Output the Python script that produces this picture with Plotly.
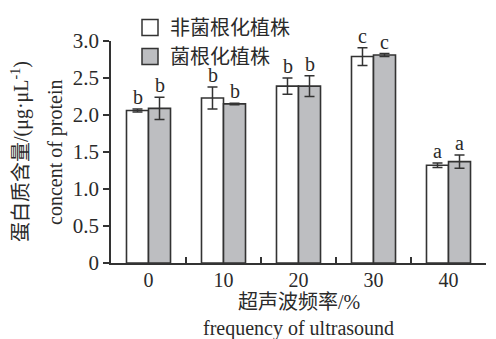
import plotly.graph_objects as go

categories = ["0", "10", "20", "30", "40"]
non_myco = [2.06, 2.23, 2.39, 2.79, 1.32]
non_myco_err = [0.02, 0.15, 0.11, 0.12, 0.03]
myco = [2.09, 2.15, 2.39, 2.81, 1.37]
myco_err = [0.15, 0.01, 0.14, 0.02, 0.09]
non_myco_letters = ["b", "b", "b", "c", "a"]
myco_letters = ["b", "b", "b", "c", "a"]
y_ticks = [0, 0.5, 1.0, 1.5, 2.0, 2.5, 3.0]
y_ticklabels = ["0", "0.5", "1.0", "1.5", "2.0", "2.5", "3.0"]
series_names = ["非菌根化植株", "菌根化植株"]

SERIF = "Liberation Serif, Times New Roman, Noto Sans CJK SC, serif"
TXT = "#2a2a2a"
EDGE = "#333333"
FILLS = ["white", "#bdbec1"]

fig = go.Figure()
for name, vals, errs, fill in zip(series_names, [non_myco, myco], [non_myco_err, myco_err], FILLS):
    fig.add_trace(go.Bar(
        x=categories, y=vals, name=name, showlegend=False,
        marker=dict(color=fill, line=dict(color=EDGE, width=1.6)),
        error_y=dict(type="data", array=errs, visible=True, color=EDGE, thickness=1.5, width=5),
    ))
# legend entries with larger square swatches
for name, fill in zip(series_names, FILLS):
    fig.add_trace(go.Scatter(
        x=[None], y=[None], mode="markers", name=name, showlegend=True,
        marker=dict(symbol="square", size=16, color=fill, line=dict(color=EDGE, width=1.5)),
    ))

annotations = []
for i, (v, e, t) in enumerate(zip(non_myco, non_myco_err, non_myco_letters)):
    annotations.append(dict(x=i, y=v + e, xref="x", yref="y", text=t, showarrow=False,
                            xshift=-11, yanchor="bottom", yshift=0, borderpad=0,
                            font=dict(family=SERIF, size=20, color=TXT)))
for i, (v, e, t) in enumerate(zip(myco, myco_err, myco_letters)):
    annotations.append(dict(x=i, y=v + e, xref="x", yref="y", text=t, showarrow=False,
                            xshift=11, yanchor="bottom", yshift=0, borderpad=0,
                            font=dict(family=SERIF, size=20, color=TXT)))

annotations.append(dict(x=0, y=0.5, xref="paper", yref="paper", xshift=-91,
                        text="蛋白质含量/(μg·μL<sup>-1</sup>)", textangle=-90, showarrow=False,
                        xanchor="center", yanchor="middle",
                        font=dict(family=SERIF, size=20, color=TXT)))
annotations.append(dict(x=0, y=0.5, xref="paper", yref="paper", xshift=-56,
                        text="concent of protein", textangle=-90, showarrow=False,
                        xanchor="center", yanchor="middle",
                        font=dict(family=SERIF, size=20, color=TXT)))
annotations.append(dict(x=0.5, y=0, xref="paper", yref="paper", yshift=-39,
                        text="超声波频率/%", showarrow=False,
                        xanchor="center", yanchor="middle",
                        font=dict(family=SERIF, size=20, color=TXT)))
annotations.append(dict(x=0.5, y=0, xref="paper", yref="paper", yshift=-65,
                        text="frequency of ultrasound", showarrow=False,
                        xanchor="center", yanchor="middle",
                        font=dict(family=SERIF, size=20, color=TXT)))

# The page adds an 8px body margin; the figure is sized to fill the rest of the window.
fig.update_layout(
    width=488, height=331,
    margin=dict(l=103, r=10, t=33, b=76, autoexpand=False),
    paper_bgcolor="white", plot_bgcolor="white",
    barmode="group", bargap=0.413, bargroupgap=0,
    showlegend=True,
    legend=dict(xref="container", yref="container", x=0.25, y=1.02,
                xanchor="left", yanchor="top", itemsizing="trace",
                bgcolor="rgba(0,0,0,0)", tracegroupgap=0,
                font=dict(family=SERIF, size=20, color=TXT)),
    annotations=annotations,
    xaxis=dict(type="category", range=[-0.5, len(categories) - 0.5],
               showline=True, linecolor=EDGE, linewidth=1.5,
               ticks="inside", tickson="boundaries", ticklen=6, tickcolor=EDGE, tickwidth=1.5,
               ticklabelstandoff=-2,
               tickfont=dict(family=SERIF, size=20, color=TXT), showgrid=False, zeroline=False),
    yaxis=dict(range=[0, 3.0], showline=True, linecolor=EDGE, linewidth=1.5,
               tickvals=y_ticks, ticktext=y_ticklabels,
               ticks="outside", ticklen=6, tickcolor=EDGE, tickwidth=1.5,
               tickfont=dict(family=SERIF, size=21, color=TXT), showgrid=False, zeroline=False),
)

fig.write_html("out.html")
